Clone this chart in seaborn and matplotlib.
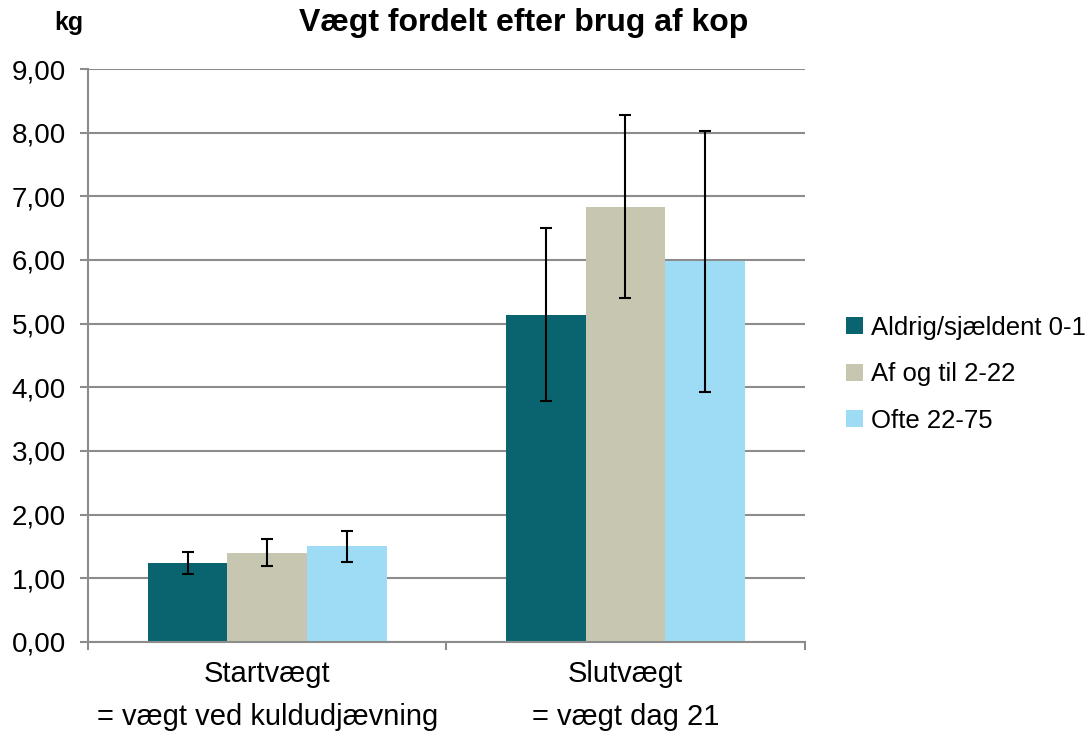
import pandas as pd
import numpy as np
import matplotlib.pyplot as plt
import seaborn as sns
from matplotlib.ticker import FixedLocator, FuncFormatter

# ==================================================
# DATA
# ==================================================

categories = ["Startvægt\n= vægt ved kuldudjævning", "Slutvægt\n= vægt dag 21"]
groups = ["Aldrig/sjældent 0-1", "Af og til 2-22", "Ofte 22-75"]

start_vals = [1.24, 1.40, 1.50]
slut_vals = [5.14, 6.84, 5.98]

start_err = [0.17, 0.21, 0.24]
slut_err = [1.36, 1.44, 2.05]

colors = ["#0A6470", "#C7C7B1", "#9EDBF5"]

# ==================================================
# DATAFRAME
# ==================================================

df = pd.DataFrame({
    "tid": [categories[0]] * 3 + [categories[1]] * 3,
    "gruppe": groups + groups,
    "vaegt": start_vals + slut_vals,
    "fejl": start_err + slut_err,
})

# ==================================================
# PLOT
# ==================================================

sns.set_style("white")
plt.rcParams["font.family"] = ["Liberation Sans", "DejaVu Sans"]
plt.rcParams["text.color"] = "black"
plt.rcParams["xtick.color"] = "black"
plt.rcParams["ytick.color"] = "black"

fig = plt.figure(figsize=(10.89, 7.31), dpi=100)
ax = fig.add_axes([0.0808, 0.1218, 0.658, 0.7838])

sns.barplot(
    data=df,
    x="tid",
    y="vaegt",
    hue="gruppe",
    palette=colors,
    width=2 / 3,
    gap=0,
    saturation=1,
    errorbar=None,
    linewidth=0,
    ax=ax,
)

# error bars on top of each bar
for container, grp in zip(ax.containers, groups):
    sub = df[df["gruppe"] == grp]
    for patch, err in zip(container.patches, sub["fejl"]):
        xc = patch.get_x() + patch.get_width() / 2
        ax.errorbar(
            xc, patch.get_height(), yerr=err,
            fmt="none", ecolor="black", elinewidth=1.5,
            capsize=4.5, capthick=1.5, zorder=5,
        )

# axes styling
ax.set_ylim(0, 9)
ax.set_xlim(-0.5, 1.5)
ax.yaxis.set_major_locator(FixedLocator(np.arange(0, 10, 1)))
ax.yaxis.set_major_formatter(FuncFormatter(lambda v, p: f"{v:.2f}".replace(".", ",")))
ax.grid(axis="y", color="#8C8C8C", linewidth=1.5)
ax.set_axisbelow(True)

for side in ["top", "right"]:
    ax.spines[side].set_visible(False)
ax.spines["left"].set_color("#8C8C8C")
ax.spines["left"].set_linewidth(1.5)
ax.spines["bottom"].set_color("#8C8C8C")
ax.spines["bottom"].set_linewidth(1.5)

ax.tick_params(axis="y", which="major", length=6, width=1.5, color="#8C8C8C",
               left=True, labelsize=20, labelcolor="black", pad=10)
ax.xaxis.set_minor_locator(FixedLocator([-0.5, 0.5, 1.5]))
ax.tick_params(axis="x", which="minor", length=6, width=1.5, color="#8C8C8C", bottom=True)
ax.tick_params(axis="x", which="major", length=0, labelsize=21, labelcolor="black", pad=13)
for lbl in ax.get_xticklabels():
    lbl.set_linespacing(1.7)

ax.set_xlabel("")
ax.set_ylabel("")

# legend
sns.move_legend(
    ax, "center left",
    bbox_to_anchor=(0.777, 0.488),
    bbox_transform=fig.transFigure,
    frameon=False,
    title=None,
    fontsize=18.5,
    handlelength=0.65,
    handleheight=0.65,
    handletextpad=0.3,
    labelspacing=0.88,
    borderpad=0,
    borderaxespad=0,
)

# titles
fig.text(0.481, 0.969, "Vægt fordelt efter brug af kop", ha="center", va="center",
         fontsize=23, fontweight="bold", color="black")
fig.text(0.0634, 0.969, "kg", ha="center", va="center", fontsize=18,
         fontweight="bold", color="black")

fig.savefig("out.png", dpi=100)
